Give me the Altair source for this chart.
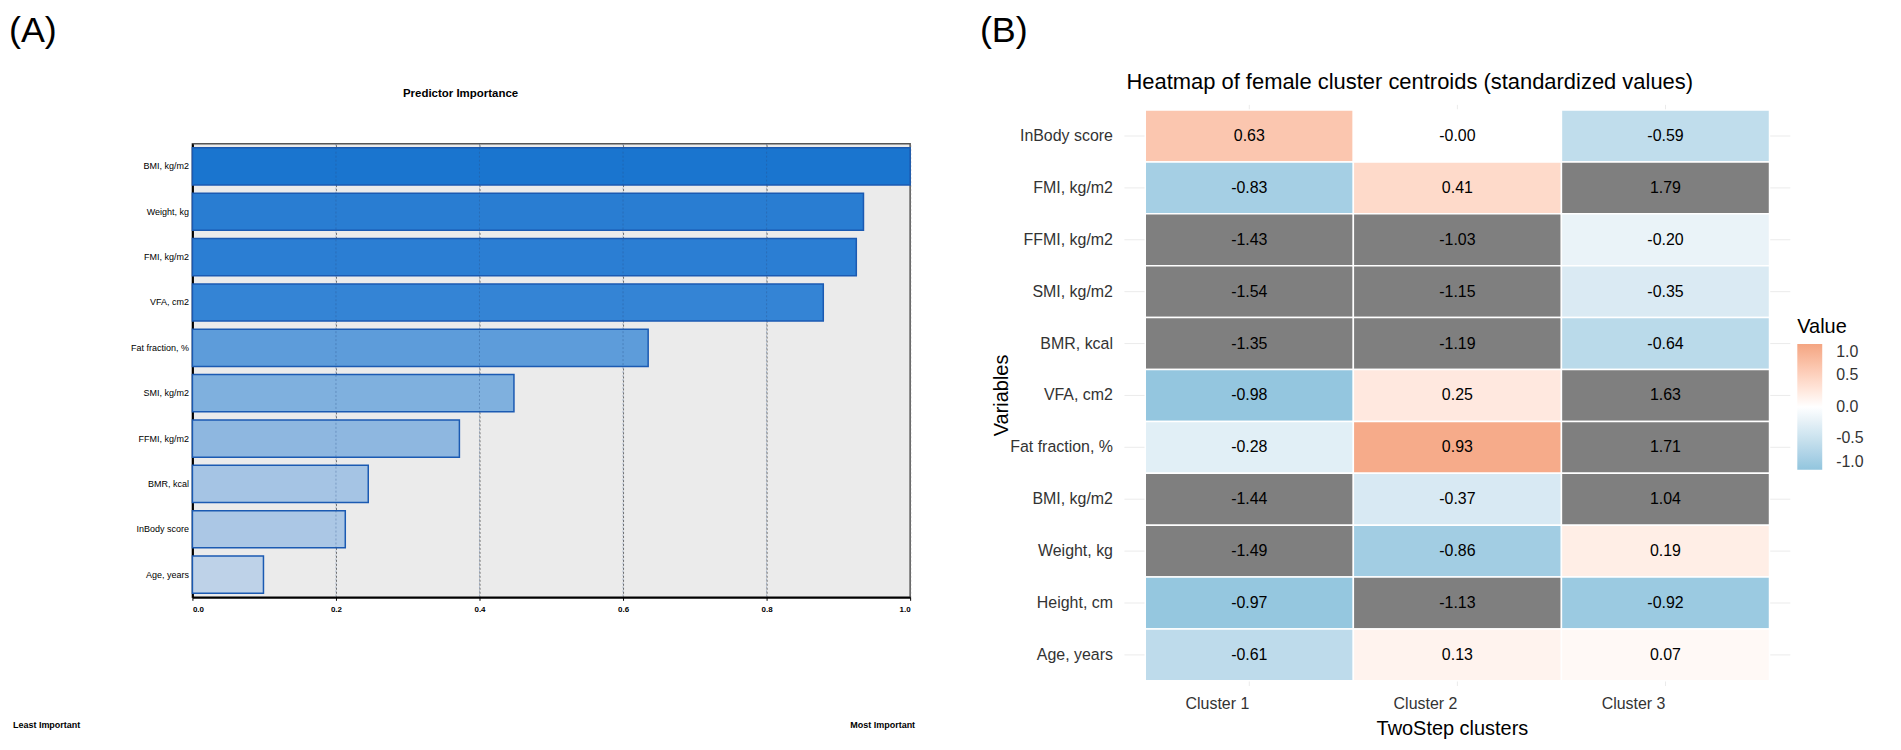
import altair as alt
import pandas as pd

FONT = "Liberation Sans"

# ---------------- Panel A data ----------------
predictors = ["BMI, kg/m2", "Weight, kg", "FMI, kg/m2", "VFA, cm2", "Fat fraction, %",
              "SMI, kg/m2", "FFMI, kg/m2", "BMR, kcal", "InBody score", "Age, years"]
importance = [1.00, 0.935, 0.925, 0.879, 0.635, 0.448, 0.372, 0.245, 0.213, 0.099]
x_ticks = [0.0, 0.2, 0.4, 0.6, 0.8, 1.0]
inner_ticks = [0.2, 0.4, 0.6, 0.8]

# ---------------- Panel B data ----------------
variables = ["InBody score", "FMI, kg/m2", "FFMI, kg/m2", "SMI, kg/m2", "BMR, kcal",
             "VFA, cm2", "Fat fraction, %", "BMI, kg/m2", "Weight, kg", "Height, cm", "Age, years"]
clusters = ["Cluster 1", "Cluster 2", "Cluster 3"]
cluster1 = [0.63, -0.83, -1.43, -1.54, -1.35, -0.98, -0.28, -1.44, -1.49, -0.97, -0.61]
cluster2 = [-0.00, 0.41, -1.03, -1.15, -1.19, 0.25, 0.93, -0.37, -0.86, -1.13, 0.13]
cluster3 = [-0.59, 1.79, -0.20, -0.35, -0.64, 1.63, 1.71, 1.04, 0.19, -0.92, 0.07]
legend_values = [-1.0, -0.5, 0.0, 0.5, 1.0]

bar_df = pd.DataFrame({"Predictor": predictors, "Importance": importance})

rows = []
for cl, vals in zip(clusters, [cluster1, cluster2, cluster3]):
    for var, v in zip(variables, vals):
        rows.append({"Cluster": cl, "Variable": var, "Value": v, "Label": f"{v:.2f}"})
heat_df = pd.DataFrame(rows)


def note(text, x, y, size, align="left", baseline="top", weight="normal", angle=0, color="#000"):
    return alt.Chart(pd.DataFrame({"t": [text]})).mark_text(
        align=align, baseline=baseline, font=FONT, fontSize=size,
        fontWeight=weight, angle=angle, color=color
    ).encode(text="t:N", x=alt.value(x), y=alt.value(y))


def frame(x1, x2, y1, y2):
    return alt.Chart(pd.DataFrame({"t": [0]})).mark_rect(opacity=0).encode(
        x=alt.value(x1), x2=alt.value(x2), y=alt.value(y1), y2=alt.value(y2))


# ---------------- Panel A ----------------
AW, AH = 720, 455
SPACER = 36

x_a = alt.X("Importance:Q",
            scale=alt.Scale(domain=[0, 1], nice=False, zero=True),
            axis=alt.Axis(values=x_ticks, format=".1f", title=None, grid=True,
                          gridDash=[2, 2], gridColor="#6E6E6E", gridWidth=1,
                          domainColor="#000", domainWidth=2, tickColor="#000", tickSize=3,
                          labelFont=FONT, labelFontSize=8, labelColor="#000",
                          labelPadding=5, labelFontWeight="bold"))

bars = alt.Chart(bar_df).mark_bar(stroke="#1B5AB2", strokeWidth=1.5).encode(
    x=x_a,
    y=alt.Y("Predictor:N", sort=predictors,
            scale=alt.Scale(paddingInner=0.18, paddingOuter=0.09),
            axis=alt.Axis(title=None, ticks=False, domainColor="#000", domainWidth=2,
                          labelFont=FONT, labelFontSize=9, labelColor="#000",
                          labelPadding=4, grid=False)),
    color=alt.Color("Importance:Q",
                    scale=alt.Scale(domain=[0.1, 0.45, 0.64, 0.88, 1.0],
                                    range=["#BED2E8", "#7FB0DE", "#5C9BDA", "#3484D5", "#1A75CF"]),
                    legend=None),
)

grid_over = alt.Chart(pd.DataFrame({"Importance": inner_ticks})).mark_rule(
    strokeDash=[2, 2], color="#2A4F86", opacity=0.35, strokeWidth=1
).encode(x=alt.X("Importance:Q"), y=alt.value(0), y2=alt.value(AH))

spacerA = alt.layer(
    frame(-184, 728, -95, SPACER),
    note("(A)", -184, -91, 36),
    note("Predictor Importance", 269, -11, 11.5, align="center", baseline="middle", weight="bold"),
).properties(width=AW, height=SPACER, view=alt.ViewBackground(stroke="transparent"))

panelA = alt.layer(
    frame(-184, 728, 0, 600),
    bars,
    grid_over,
    note("Least Important", -180, 583, 9, baseline="middle", weight="bold"),
    note("Most Important", 725, 583, 9, align="right", baseline="middle", weight="bold"),
).properties(width=AW, height=AH,
             view=alt.ViewBackground(fill="#EBEBEB", stroke="#555", strokeWidth=1.5))

colA = alt.vconcat(spacerA, panelA, spacing=0)

# ---------------- Panel B ----------------
BW, BH = 668, 583
color_scale = alt.Scale(domain=[-1, 0, 1], range=["#92C5DE", "#FFFFFF", "#F4A582"], interpolate="lab")

x_b = alt.X("Cluster:N", sort=clusters,
            scale=alt.Scale(paddingInner=0, paddingOuter=0.1),
            axis=alt.Axis(title=None, orient="bottom", domain=False, ticks=False, grid=False,
                          bandPosition=0.5, labelAngle=0,
                          labelAlign="right", labelFont=FONT, labelFontSize=16,
                          labelColor="#333", labelPadding=10))
y_b = alt.Y("Variable:N", sort=variables,
            scale=alt.Scale(paddingInner=0, paddingOuter=0.1),
            axis=alt.Axis(title=None, domain=False, ticks=False, grid=False,
                          labelFont=FONT, labelFontSize=16, labelColor="#333", labelPadding=12))

vgrid = alt.Chart(pd.DataFrame({"Cluster": clusters})).mark_rule(color="#EBEBEB", strokeWidth=1).encode(
    x=x_b, y=alt.value(0), y2=alt.value(BH))
hgrid = alt.Chart(pd.DataFrame({"Variable": variables})).mark_rule(color="#EBEBEB", strokeWidth=1).encode(
    y=y_b, x=alt.value(0), x2=alt.value(BW))

tiles = alt.Chart(heat_df).mark_rect(stroke="white", strokeWidth=1.5).encode(
    x=x_b, y=y_b,
    color=alt.condition(
        "abs(datum.Value) > 1",
        alt.value("#7F7F7F"),
        alt.Color("Value:Q", scale=color_scale,
                  legend=alt.Legend(
                      title="Value", orient="none", legendX=675, legendY=213,
                      direction="vertical", gradientLength=126, gradientThickness=25,
                      values=legend_values,
                      labelExpr="datum.value < 0 ? '-' + format(-datum.value, '.1f') : format(datum.value, '.1f')",
                      titleFont=FONT, titleFontSize=20, titleFontWeight="normal", titleColor="#000",
                      labelFont=FONT, labelFontSize=16, labelColor="#333", labelOffset=14,
                      labelBaseline="middle", titlePadding=7, gradientStrokeWidth=0,
                      padding=0, labelOverlap=False)),
    ),
)

cell_text = alt.Chart(heat_df).mark_text(font=FONT, fontSize=16, color="#000").encode(
    x=alt.X("Cluster:N", sort=clusters), y=alt.Y("Variable:N", sort=variables), text="Label:N")

panelB = alt.layer(
    frame(-145, 770, -95, 637),
    vgrid,
    hgrid,
    tiles,
    cell_text,
    note("(B)", -145, -91, 36),
    note("Heatmap of female cluster centroids (standardized values)", 2, -16, 22,
         baseline="alphabetic"),
    note("Variables", -123, BH / 2, 20, align="center", baseline="middle", angle=270),
    note("TwoStep clusters", 329, 632, 20, align="center", baseline="alphabetic"),
).properties(width=BW, height=BH,
             view=alt.ViewBackground(fill="white", stroke="transparent"))

chart = alt.hconcat(colA, panelB, spacing=60).resolve_scale(color="independent").properties(
    padding=0).configure(font=FONT, background="white")

chart.save("out.html", embed_options={"renderer": "svg", "actions": False})
